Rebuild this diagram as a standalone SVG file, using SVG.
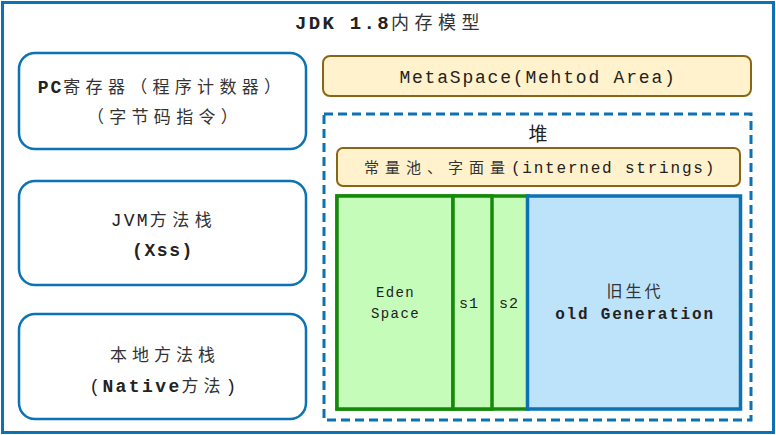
<svg xmlns="http://www.w3.org/2000/svg" width="776" height="435" viewBox="0 0 776 435">
<style>
text{font-family:"Liberation Mono","Noto Sans CJK SC",monospace;fill:#222;text-anchor:middle}
.left{fill:#fff;stroke:#0b72b5;stroke-width:2.5}
.yel{fill:#fff2cc;stroke:#8a6614;stroke-width:2}
.grn{fill:#c6fcba;stroke:#158a0a;stroke-width:3.5}
.b{font-weight:bold}
.c{fill:#333}
</style>
<rect x="2.5" y="2.5" width="771" height="430" fill="#fff" stroke="#0b72b5" stroke-width="3"/>
<text x="390" y="29" font-size="18"><tspan class="b" font-size="19" letter-spacing="2.3">JDK 1.8</tspan><tspan class="c" letter-spacing="5.5">内存模型</tspan></text>
<g id="pc">
<rect class="left" x="19" y="53" width="287" height="96" rx="16"/>
<text x="162" y="93" font-size="17"><tspan class="b" font-size="18" letter-spacing="2">PC</tspan><tspan class="c" letter-spacing="5.3">寄存器（程序计数器）</tspan></text>
<text x="165" y="123" font-size="17" class="c" letter-spacing="5.3">（字节码指令）</text>
</g>
<g id="jvmstack">
<rect class="left" x="19" y="181" width="287" height="104" rx="16"/>
<text x="164" y="226" font-size="17"><tspan font-size="18" letter-spacing="2.2">JVM</tspan><tspan class="c" letter-spacing="5.5">方法栈</tspan></text>
<text x="163" y="256" font-size="18" class="b" letter-spacing="1.6">(Xss)</text>
</g>
<g id="native">
<rect class="left" x="19" y="314" width="287" height="105" rx="16"/>
<text x="165" y="361" font-size="17" class="c" letter-spacing="5">本地方法栈</text>
<text x="164" y="392" font-size="17"><tspan font-size="18" letter-spacing="2.4">(</tspan><tspan class="b" font-size="18" letter-spacing="2.4">Native</tspan><tspan class="c" letter-spacing="5">方法</tspan><tspan font-size="18" letter-spacing="2.4">)</tspan></text>
</g>
<g id="metaspace">
<rect class="yel" x="323" y="56" width="428" height="40" rx="7"/>
<text x="538" y="83" font-size="18" letter-spacing="1.8">MetaSpace(Mehtod Area)</text>
</g>
<g id="heap">
<rect x="324" y="114" width="427" height="306" fill="none" stroke="#0b72b5" stroke-width="3" stroke-dasharray="9,5"/>
<text x="538" y="141" font-size="19">堆</text>
</g>
<g id="constpool">
<rect class="yel" x="337" y="148" width="403" height="38" rx="6"/>
<text x="540" y="173" font-size="15"><tspan class="c" letter-spacing="6">常量池、字面量</tspan><tspan font-size="16" letter-spacing="1.8">(interned strings)</tspan></text>
</g>
<g id="young">
<rect class="grn" x="337" y="196" width="191" height="213"/>
</g>
<g id="eden">
<rect class="grn" x="337" y="196" width="116" height="213"/>
<text x="395.5" y="297" font-size="14" letter-spacing="1.4">Eden</text>
<text x="395.5" y="318" font-size="14" letter-spacing="1.4">Space</text>
</g>
<g id="s1">
<rect class="grn" x="453" y="196" width="39" height="213"/>
<text x="469" y="308" font-size="15" letter-spacing="1">s1</text>
</g>
<g id="s2">
<text x="509" y="308" font-size="15" letter-spacing="1">s2</text>
</g>
<g id="old">
<rect x="527.5" y="196" width="213" height="213" fill="#bde3fb" stroke="#0b72b5" stroke-width="3.5"/>
<text x="635" y="297" font-size="16" class="c" letter-spacing="3">旧生代</text>
<text x="635" y="319" font-size="16" class="b" letter-spacing="1.8">old Generation</text>
</g>
<g id="connectors"></g>
</svg>
